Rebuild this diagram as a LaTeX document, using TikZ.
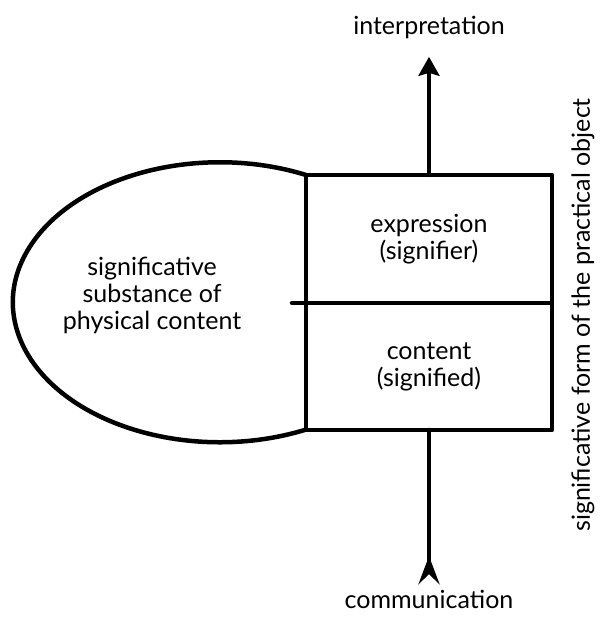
\documentclass[tikz,border=0pt]{standalone}
\usepackage{fontspec}
\setmainfont{Lato}
\usepackage{tikz}
\usetikzlibrary{arrows.meta, positioning, calc}

\tikzset{
    inkline/.style={line width=4.5pt, line join=round, line cap=round},
    cellbox/.style={draw, inkline, minimum width=246pt, inner sep=0pt, outer sep=0pt, align=center},
    caption/.style={font=\fontsize{25}{27}\selectfont, align=center}
}

\begin{document}
\begin{tikzpicture}[x=1pt, y=1pt]
                \useasboundingbox (0,0) rectangle (614,617);
                % the two halves of the sign
                \node[cellbox, minimum height=128pt, caption] (expr) at (429,378) {expression\\(signifier)};
                \node[cellbox, minimum height=127pt, caption, below=0pt of expr] (cont) {content\\(signified)};
                % substance bulging out on the left
                \draw[inkline] (expr.north west)
                    arc[start angle=65.4, end angle=294.6, x radius=207, y radius=140];
                \draw[inkline] (expr.south west) -- ++(-14,0);
                \node[caption] (subst) at (152,322) {significative\\substance of\\physical content};
                % the two directions
                \node[caption, anchor=base] (interp) at (429,582) {interpretation};
                \node[caption, anchor=base] (comm) at (429,9) {communication};
                \draw[inkline, -{Stealth[length=19pt, width=21pt, inset=3pt]}, shorten >=14pt]
                    (expr.north) -- (interp);
                \draw[inkline, {Stealth[reversed, length=28pt, width=21pt, inset=10pt]}-, shorten <=2pt]
                    (comm) -- (cont.south);
                \node[caption, rotate=90] (form) at (583,302) {significative form of the practical object};
            \end{tikzpicture}
\end{document}
